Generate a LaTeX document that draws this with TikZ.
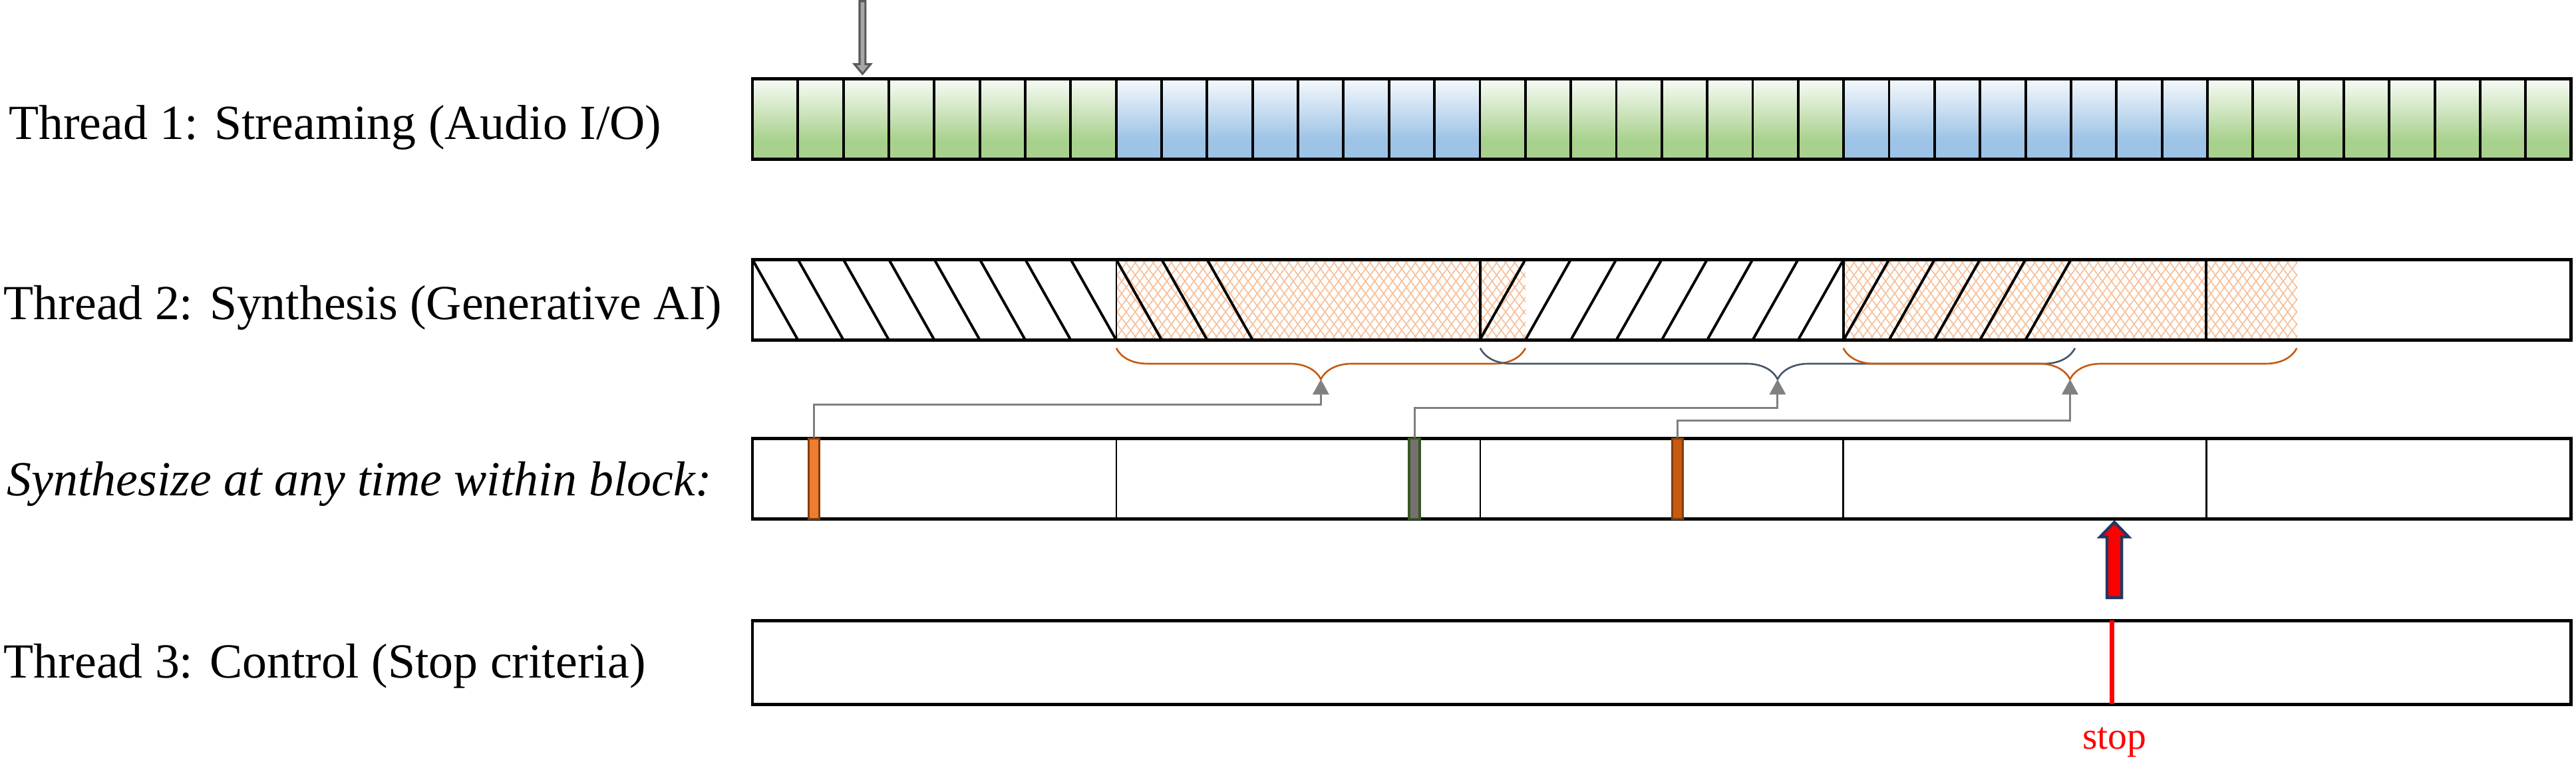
\documentclass[tikz,border=0pt]{standalone}
\usepackage{fontspec}
\setmainfont{Liberation Serif}
\usetikzlibrary{positioning,arrows.meta,decorations.pathreplacing}

\definecolor{cellgreen}{RGB}{169,209,142}
\definecolor{cellblue}{RGB}{157,195,230}
\definecolor{hatchorange}{RGB}{244,177,131}
\definecolor{braceorange}{RGB}{197,90,17}
\definecolor{braceslate}{RGB}{68,84,106}
\definecolor{linkgray}{RGB}{128,128,128}
\definecolor{markorange}{RGB}{237,125,49}
\definecolor{markbrown}{RGB}{197,90,17}
\definecolor{markedge}{RGB}{132,60,12}
\definecolor{markgray}{RGB}{118,113,113}
\definecolor{markgreen}{RGB}{56,87,35}
\definecolor{arrownavy}{RGB}{31,56,100}
\definecolor{arrowgray}{RGB}{166,166,166}
\definecolor{arrowdark}{RGB}{89,89,89}

\pgfdeclareverticalshading{greenfade}{100bp}{color(0bp)=(cellgreen); color(25bp)=(cellgreen); color(37bp)=(cellgreen); color(75bp)=(cellgreen!8!white); color(100bp)=(cellgreen!8!white)}
\pgfdeclareverticalshading{bluefade}{100bp}{color(0bp)=(cellblue); color(25bp)=(cellblue); color(37bp)=(cellblue); color(75bp)=(cellblue!10!white); color(100bp)=(cellblue!10!white)}

\begin{document}
\begin{tikzpicture}[x=0.02cm,y=-0.02cm,
  threadbar/.style={draw=black,line width=1.1pt},
  celldiv/.style={line width=0.9pt},
  blockdiv/.style={line width=0.6pt},
  hatchline/.style={line width=0.9pt},
  xhatch/.style={draw=hatchorange!80!white,line width=0.4pt},
  synthmark/.style={rectangle,inner sep=0pt,minimum width=0.13cm,minimum height=0.98cm,line width=0.8pt},
  linkarrow/.style={draw=linkgray,line width=0.7pt,-{Triangle[length=5.3pt,width=5.6pt]}},
  braceorange/.style={draw=braceorange,line width=0.6pt,decorate,decoration={brace,mirror,amplitude=0.38cm}},
  braceslate/.style={draw=braceslate,line width=0.6pt,decorate,decoration={brace,mirror,amplitude=0.38cm}},
  threadlabel/.style={anchor=base west,inner sep=0pt,font=\fontsize{17}{20}\selectfont}]
\useasboundingbox (0,0) rectangle (1568,464);

% labels
\node[threadlabel] (lbl1) at (5,85) {Thread 1: Streaming (Audio I/O)};
\node[threadlabel] (lbl2) at (2,194.4) {Thread 2: Synthesis (Generative AI)};
\node[threadlabel,font=\fontsize{17}{20}\selectfont\itshape] (lbl3) at (4,302) {Synthesize at any time within block:};
\node[threadlabel] (lbl4) at (2,413) {Thread 3: Control (Stop criteria)};

% thread 1
\foreach \g/\s in {0/greenfade,1/bluefade,2/greenfade,3/bluefade,4/greenfade}
  \shade[shading=\s] ({458+\g*221.4},48) rectangle ++(221.4,49);
\foreach \k in {1,...,39}
  \draw[celldiv] ({458+\k*27.675},48) -- ++(0,49);
\draw[threadbar] (458,48) rectangle (1565,97);
\filldraw[fill=arrowgray,draw=arrowdark,line width=0.7pt] (523.2,0.7) -- (523.2,39) -- (520,39) -- (525,45) -- (530,39) -- (526.8,39) -- (526.8,0.7) -- cycle;

% thread 2
\begin{scope}
\clip (679.5,158) rectangle (928.5,207);
\foreach \k in {0,...,54} {
  \draw[xhatch] ({640+\k*5.5},158) -- ++(36,49);
  \draw[xhatch] ({640+\k*5.5},207) -- ++(36,-49);
}
\end{scope}
\begin{scope}
\clip (1122,158) rectangle (1398.4,207);
\foreach \k in {0,...,58} {
  \draw[xhatch] ({1083+\k*5.5},158) -- ++(36,49);
  \draw[xhatch] ({1083+\k*5.5},207) -- ++(36,-49);
}
\end{scope}
\foreach \k in {0,...,10}
  \draw[hatchline] ({458+\k*27.675},158) -- ({458+(\k+1)*27.675},207);
\foreach \k in {16,...,28}
  \draw[hatchline] ({458+\k*27.675},207) -- ({458+(\k+1)*27.675},158);
\draw[blockdiv] (679.5,158) -- (679.5,207);
\foreach \x in {901,1122,1343}
  \draw[celldiv] (\x,158) -- (\x,207);
\draw[threadbar] (458,158) rectangle (1565,207);

% braces
\draw[braceorange] (679.5,212) -- (928.5,212);
\draw[braceslate] (901,212) -- (1263,212);
\draw[braceorange] (1122,212) -- (1398,212);
\coordinate (bA) at (804,231);
\coordinate (bB) at (1082,231);
\coordinate (bC) at (1260,231);

% synthesis blocks
\foreach \x in {679.5,901,1122,1343}
  \draw[blockdiv] (\x,267) -- (\x,316);
\draw[threadbar] (458,267) rectangle (1565,316);
\node[synthmark,fill=markorange,draw=markedge] (mA) at (495.5,291.5) {};
\node[synthmark,fill=markgray,draw=markgreen] (mB) at (861,291.5) {};
\node[synthmark,fill=markbrown,draw=markedge] (mC) at (1021,291.5) {};
\draw[linkarrow] (mA.north) -- ++(0,-20) -| (bA);
\draw[linkarrow] (mB.north) -- ++(0,-18) -| (bB);
\draw[linkarrow] (mC.north) -- ++(0,-10) -| (bC);

% stop
\filldraw[fill=red,draw=arrownavy,line width=1pt] (1282.5,364) -- (1282.5,327) -- (1278.3,327) -- (1287,318) -- (1295.7,327) -- (1291.5,327) -- (1291.5,364) -- cycle;
\draw[threadbar] (458,378) rectangle (1565,429);
\draw[red,line width=1.8pt] (1285.5,378) -- (1285.5,429);
\node[anchor=base,inner sep=0pt,text=red,font=\fontsize{13.3}{16}\selectfont] (stop) at (1287,456) {stop};
\end{tikzpicture}
\end{document}
